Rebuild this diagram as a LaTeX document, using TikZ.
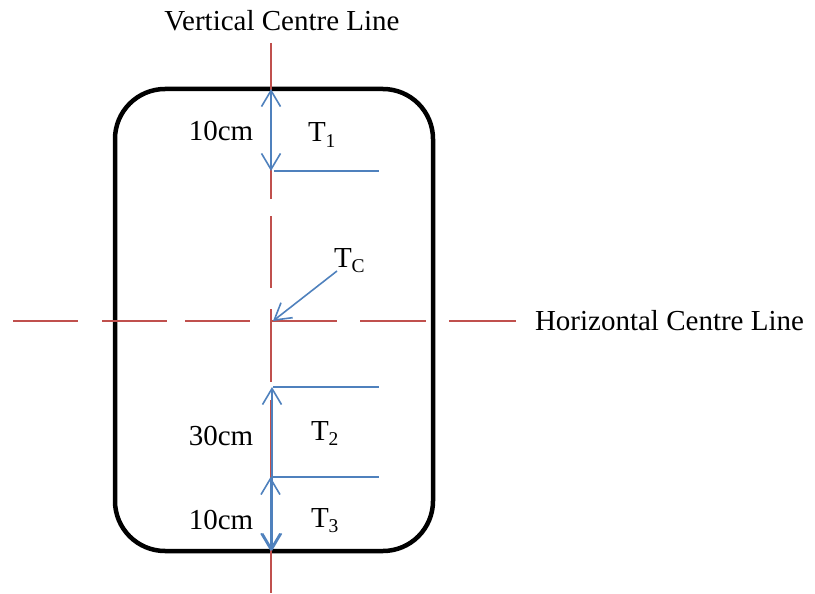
\documentclass[tikz,border=0pt]{standalone}
\usepackage{fontspec}
\setmainfont{Liberation Serif}
\usetikzlibrary{arrows.meta}
\definecolor{cred}{HTML}{C0504D}
\definecolor{cblue}{HTML}{4F81BD}
\newcommand\mysub[1]{\raisebox{-0.2em}{\fontsize{19.5}{19.5}\selectfont #1}}
\begin{document}
\begin{tikzpicture}[x=1pt,y=-1pt,
  cl/.style={cred, line width=1.6pt},
  frame/.style={black, line width=4.5pt, rounded corners=50pt},
  barb/.tip={Straight Barb[length=16pt,width=19pt,line width=1.6pt]},
  dim/.style={cblue, line width=1.7pt, barb-barb},
  tick/.style={cblue, line width=1.6pt},
  lbl/.style={font=\fontsize{29}{31}\selectfont, inner sep=0pt, outer sep=0pt}]
\useasboundingbox (0,0) rectangle (815,594);
% box
\draw[frame] (115,89) rectangle (433,551);
% horizontal centre line (dashed segments)
\foreach \a/\b in {13/78,102/167,185/250,272/337,360/426,449/516}
  \draw[cl] (\a,321) -- (\b,321);
% vertical centre line
\foreach \a/\b in {43/199,216/288,309/382,400/593}
  \draw[cl] (271,\a) -- (271,\b);
% named points
\coordinate (t1a) at (271,89);
\coordinate (t1b) at (271,171);
\coordinate (t2a) at (272,387);
\coordinate (t2b) at (272,551);
\coordinate (t3a) at (270.5,477);
\coordinate (t3b) at (270.5,551);
\coordinate (h1a) at (274,171); \coordinate (h1b) at (379,171);
\coordinate (h2a) at (273,387); \coordinate (h2b) at (379,387);
\coordinate (h3a) at (273,477); \coordinate (h3b) at (379,477);
\coordinate (ctr) at (273,321);
% blue dimensions
\draw[dim] (t1a) -- (t1b);
\draw[tick] (h1a) -- (h1b);
\draw[tick] (h2a) -- (h2b);
\draw[tick] (h3a) -- (h3b);
\draw[dim] (t2a) -- (t2b);
\draw[dim] (t3a) -- (t3b);
% labels
\node[lbl, anchor=base] (l10a) at (221,140) {10cm};
\node[lbl, anchor=base west] (T1) at (308,142) {T\mysub{1}};
\node[lbl, anchor=base] (l30) at (221,445) {30cm};
\node[lbl, anchor=base west] (T2) at (311,440) {T\mysub{2}};
\node[lbl, anchor=base] (l10b) at (221,529) {10cm};
\node[lbl, anchor=base west] (T3) at (311,527) {T\mysub{3}};
\node[lbl, anchor=base west] (TC) at (334,267) {T\mysub{C}};
\coordinate (tcs) at (337,271);
\draw[cblue, line width=1.6pt, -{Straight Barb[length=16pt,width=19pt,line width=1.6pt]}] (tcs) -- (ctr);
\node[lbl, anchor=base] (vcl) at (282,31) {Vertical Centre Line};
\node[lbl, anchor=west] (hcl) at (535,321) {Horizontal Centre Line};
\end{tikzpicture}
\end{document}
